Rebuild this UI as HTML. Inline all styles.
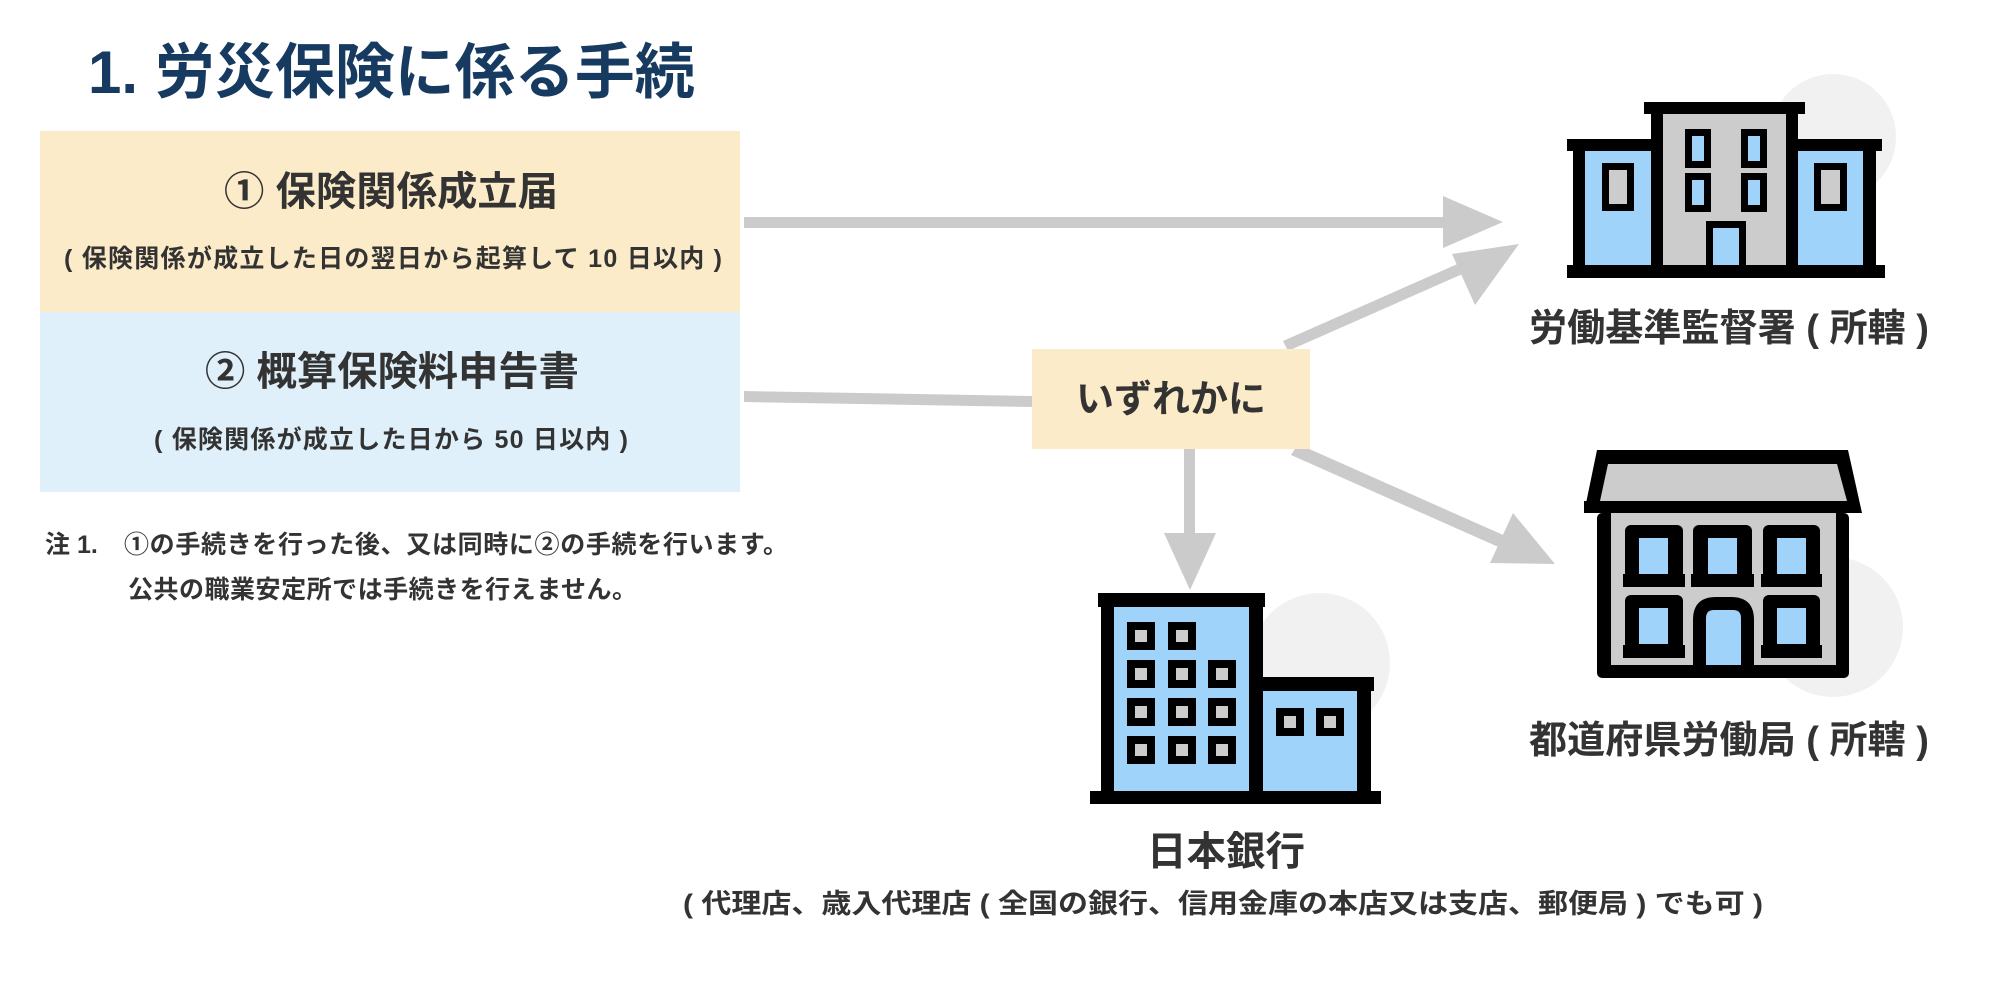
<!DOCTYPE html>
<html><head><meta charset="utf-8"><style>
html,body{margin:0;padding:0;background:#fff;}
svg{display:block;}
text{font-family:"Liberation Sans","Noto Sans CJK JP",sans-serif;font-weight:bold;fill:#333;}
</style></head><body>
<svg width="2000" height="1000" viewBox="0 0 2000 1000" xmlns="http://www.w3.org/2000/svg">
<rect width="2000" height="1000" fill="#fff"/>
<text x="88" y="93" font-size="60" style="fill:#173a60">1. 労災保険に係る手続</text>

<rect x="40" y="131" width="700" height="181" fill="#fbebc8"/>
<rect x="40" y="312" width="700" height="180" fill="#dff0fa"/>
<text x="224" y="205" font-size="40" textLength="334" lengthAdjust="spacingAndGlyphs">① 保険関係成立届</text>
<text x="64" y="267" font-size="25" textLength="658" lengthAdjust="spacing">( 保険関係が成立した日の翌日から起算して 10 日以内 )</text>
<text x="205" y="385" font-size="40" textLength="374" lengthAdjust="spacingAndGlyphs">② 概算保険料申告書</text>
<text x="154" y="448" font-size="25" textLength="474" lengthAdjust="spacing">( 保険関係が成立した日から 50 日以内 )</text>

<text x="45" y="553" font-size="25">注 1.</text>
<text x="124" y="553" font-size="25" textLength="664" lengthAdjust="spacing">①の手続きを行った後、又は同時に②の手続を行います。</text>
<text x="128" y="598" font-size="25" textLength="509" lengthAdjust="spacing">公共の職業安定所では手続きを行えません。</text>

<!-- arrows -->
<g fill="#cbcbcb" stroke="none">
<rect x="744" y="217" width="705" height="11"/>
<polygon points="1443,196 1503,222 1443,248"/>
<polygon points="744,391 1032,396 1032,407 744,402"/>
<polygon points="1283,341 1462,262 1467,272 1288,351"/>
<polygon points="1519,244 1475,305 1452,254"/>
<rect x="1184" y="449" width="11" height="90"/>
<polygon points="1164,533 1216,533 1190,590"/>
<polygon points="1291,455 1298,444 1510,538 1503,549"/>
<polygon points="1555,564 1490,563 1513,513"/>
</g>

<rect x="1032" y="349" width="278" height="100" fill="#fbebc8"/>
<text x="1171" y="412" font-size="38" text-anchor="middle">いずれかに</text>

<!-- building 1 -->
<circle cx="1833" cy="137" r="63" fill="#f1f1f1"/>
<g>
<rect x="1644" y="102" width="161" height="12" fill="#000"/>
<rect x="1651" y="114" width="147" height="151" fill="#000"/>
<rect x="1663" y="114" width="123" height="151" fill="#cccccc"/>
<rect x="1567" y="139" width="84" height="12" fill="#000"/>
<rect x="1798" y="139" width="84" height="12" fill="#000"/>
<rect x="1573" y="151" width="12" height="114" fill="#000"/>
<rect x="1585" y="151" width="66" height="114" fill="#a0d3fa"/>
<rect x="1798" y="151" width="65" height="114" fill="#a0d3fa"/>
<rect x="1863" y="151" width="13" height="114" fill="#000"/>
<rect x="1567" y="265" width="318" height="13" fill="#000"/>
<rect x="1602" y="163" width="32" height="48" fill="#000"/><rect x="1609" y="170" width="18" height="34" fill="#ccc"/>
<rect x="1814" y="163" width="33" height="48" fill="#000"/><rect x="1821" y="170" width="19" height="34" fill="#ccc"/>
<rect x="1685" y="129" width="26" height="39" fill="#000"/><rect x="1692" y="136" width="12" height="25" fill="#a0d3fa"/>
<rect x="1741" y="129" width="26" height="39" fill="#000"/><rect x="1748" y="136" width="12" height="25" fill="#a0d3fa"/>
<rect x="1685" y="173" width="26" height="39" fill="#000"/><rect x="1692" y="180" width="12" height="25" fill="#a0d3fa"/>
<rect x="1741" y="173" width="26" height="39" fill="#000"/><rect x="1748" y="180" width="12" height="25" fill="#a0d3fa"/>
<rect x="1706" y="221" width="40" height="44" fill="#000"/><rect x="1713" y="228" width="26" height="37" fill="#a0d3fa"/>
</g>
<text x="1529" y="341" font-size="38" textLength="400" lengthAdjust="spacingAndGlyphs">労働基準監督署 ( 所轄 )</text>

<!-- building 2 -->
<circle cx="1833" cy="627" r="70" fill="#f1f1f1"/>
<g>
<polygon points="1597,450 1848,450 1862,513 1584,513" fill="#000"/>
<polygon points="1608,464 1837,464 1847,501 1600,501" fill="#ccc"/>
<rect x="1584" y="501" width="222" height="12" fill="#000"/>
<rect x="1597" y="513" width="252" height="165" rx="5" fill="#000"/>
<rect x="1611" y="513" width="225" height="152" fill="#ccc"/>
<rect x="1825" y="501" width="24" height="12" fill="#000"/>
<g fill="#000">
<rect x="1625" y="525" width="58" height="60" rx="6"/><rect x="1623" y="574" width="62" height="13"/>
<rect x="1693" y="525" width="59" height="60" rx="6"/><rect x="1691" y="574" width="63" height="13"/>
<rect x="1763" y="525" width="57" height="60" rx="6"/><rect x="1761" y="574" width="61" height="13"/>
<rect x="1625" y="595" width="58" height="60" rx="6"/><rect x="1623" y="645" width="62" height="13"/>
<rect x="1763" y="595" width="57" height="60" rx="6"/><rect x="1761" y="645" width="61" height="13"/>
<path d="M1693,665 L1693,620 Q1693,597 1716,597 L1731,597 Q1754,597 1754,620 L1754,665 Z"/>
</g>
<g fill="#a0d3fa">
<rect x="1639" y="538" width="29" height="36"/>
<rect x="1708" y="538" width="29" height="36"/>
<rect x="1777" y="538" width="29" height="36"/>
<rect x="1639" y="608" width="29" height="36"/>
<rect x="1777" y="608" width="29" height="36"/>
<path d="M1706,665 L1706,618 Q1706,610 1714,610 L1733,610 Q1741,610 1741,618 L1741,665 Z"/>
</g>
</g>
<text x="1529" y="753" font-size="38" textLength="400" lengthAdjust="spacingAndGlyphs">都道府県労働局 ( 所轄 )</text>

<!-- bank -->
<circle cx="1320" cy="663" r="70" fill="#f1f1f1"/>
<g>
<rect x="1098" y="593" width="167" height="14" fill="#000"/>
<rect x="1101" y="607" width="162" height="184" fill="#000"/>
<rect x="1114" y="607" width="135" height="184" fill="#a0d3fa"/>
<rect x="1260" y="677" width="114" height="14" fill="#000"/>
<rect x="1263" y="691" width="94" height="100" fill="#a0d3fa"/>
<rect x="1357" y="691" width="14" height="100" fill="#000"/>
<rect x="1090" y="791" width="291" height="13" fill="#000"/>
<g fill="#000">
<rect x="1127" y="622" width="28" height="28"/><rect x="1168" y="622" width="28" height="28"/>
<rect x="1127" y="660" width="28" height="28"/><rect x="1168" y="660" width="28" height="28"/><rect x="1208" y="660" width="28" height="28"/>
<rect x="1127" y="698" width="28" height="28"/><rect x="1168" y="698" width="28" height="28"/><rect x="1208" y="698" width="28" height="28"/>
<rect x="1127" y="736" width="28" height="28"/><rect x="1168" y="736" width="28" height="28"/><rect x="1208" y="736" width="28" height="28"/>
<rect x="1276" y="708" width="28" height="28"/><rect x="1316" y="708" width="28" height="28"/>
</g>
<g fill="#ccc">
<rect x="1135" y="630" width="12" height="12"/><rect x="1176" y="630" width="12" height="12"/>
<rect x="1135" y="668" width="12" height="12"/><rect x="1176" y="668" width="12" height="12"/><rect x="1216" y="668" width="12" height="12"/>
<rect x="1135" y="706" width="12" height="12"/><rect x="1176" y="706" width="12" height="12"/><rect x="1216" y="706" width="12" height="12"/>
<rect x="1135" y="744" width="12" height="12"/><rect x="1176" y="744" width="12" height="12"/><rect x="1216" y="744" width="12" height="12"/>
<rect x="1284" y="716" width="12" height="12"/><rect x="1324" y="716" width="12" height="12"/>
</g>
</g>
<text x="1147" y="865" font-size="40" textLength="158" lengthAdjust="spacingAndGlyphs">日本銀行</text>
<text x="683" y="913" font-size="27" textLength="1080" lengthAdjust="spacingAndGlyphs">( 代理店、歳入代理店 ( 全国の銀行、信用金庫の本店又は支店、郵便局 ) でも可 )</text>
</svg>
</body></html>
